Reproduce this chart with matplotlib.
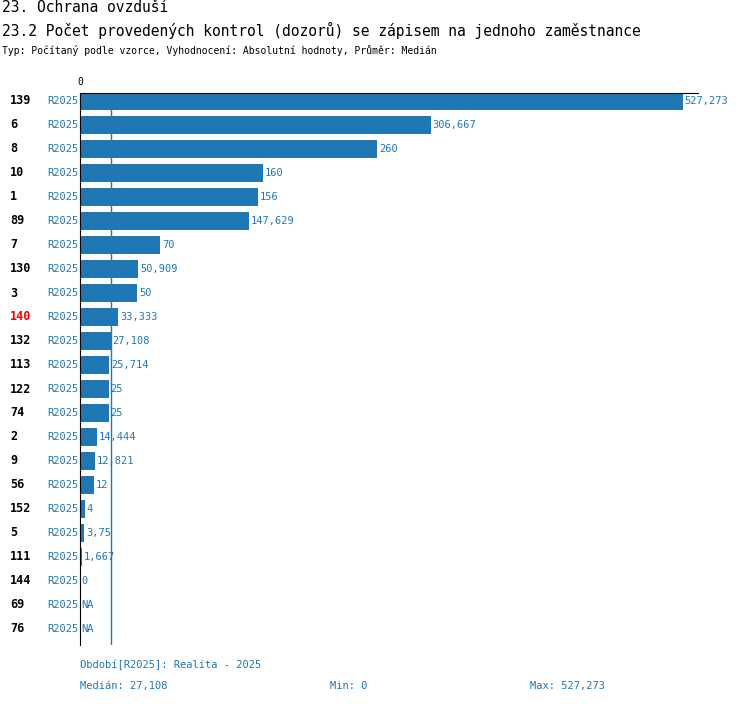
import matplotlib
matplotlib.use("Agg")
import matplotlib.pyplot as plt

ids = ["139", "6", "8", "10", "1", "89", "7", "130", "3", "140", "132", "113",
       "122", "74", "2", "9", "56", "152", "5", "111", "144", "69", "76"]
values = [527.273, 306.667, 260, 160, 156, 147.629, 70, 50.909, 50, 33.333,
          27.108, 25.714, 25, 25, 14.444, 12.821, 12, 4, 3.75, 1.667, 0, None, None]
labels = ["527,273", "306,667", "260", "160", "156", "147,629", "70", "50,909",
          "50", "33,333", "27,108", "25,714", "25", "25", "14,444", "12,821",
          "12", "4", "3,75", "1,667", "0", "NA", "NA"]
median = 27.108
highlight = "140"

BLUE = "#1f77b4"
W, H = 750, 704
fig = plt.figure(figsize=(W / 100, H / 100), dpi=100)
plt.rcParams["font.family"] = "DejaVu Sans Mono"

def fx(px):
    return px / W

def fy(py):
    return 1 - py / H

ax = fig.add_axes([fx(80), fy(645), fx(683) - fx(80), fy(93) - fy(645)])
n = len(ids)
ax.set_xlim(0, max(v for v in values if v is not None))
ax.set_ylim(n - 1 + 0.667, -0.333)
ax.barh(range(n), [v or 0 for v in values], height=0.75, color=BLUE)
ax.axvline(median, color=BLUE, lw=1)
for i, (v, lab) in enumerate(zip(values, labels)):
    ax.text((v or 0) + 1.5, i, lab, color=BLUE, fontsize=7.5, va="center", clip_on=False)
for s in ["right", "bottom"]:
    ax.spines[s].set_visible(False)
ax.set_xticks([])
ax.set_yticks([])
ax.spines["top"].set_bounds(0, 540)
ax.text(0, -0.6, "0", fontsize=7, ha="center", va="bottom")

for i, name in enumerate(ids):
    y = fy(101 + 24 * i)
    fig.text(fx(10), y, name, fontsize=8.5, fontweight="bold", va="center",
             color="red" if name == highlight else "black")
    fig.text(fx(47), y, "R2025", fontsize=7.5, va="center", color=BLUE)

fig.text(fx(2), fy(7), "23. Ochrana ovzduší", fontsize=10.5, va="center")
fig.text(fx(2), fy(30), "23.2 Počet provedených kontrol (dozorů) se zápisem na jednoho zaměstnance",
         fontsize=10.5, va="center")
fig.text(fx(2), fy(50), "Typ: Počítaný podle vzorce, Vyhodnocení: Absolutní hodnoty, Průměr: Medián",
         fontsize=7, va="center")
fig.text(fx(80), fy(665), "Období[R2025]: Realita - 2025", fontsize=7.5, va="center", color=BLUE)
fig.text(fx(80), fy(686), "Medián: 27,108", fontsize=7.5, va="center", color=BLUE)
fig.text(fx(330), fy(686), "Min: 0", fontsize=7.5, va="center", color=BLUE)
fig.text(fx(530), fy(686), "Max: 527,273", fontsize=7.5, va="center", color=BLUE)

fig.savefig("out.png", dpi=100)
